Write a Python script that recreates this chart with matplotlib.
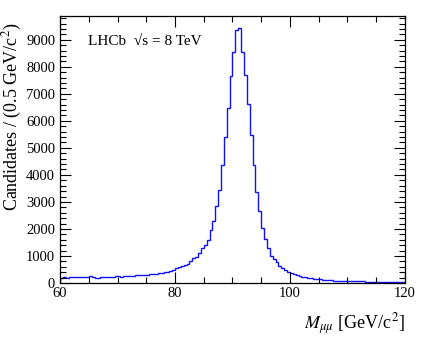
import numpy as np
import matplotlib
matplotlib.use("Agg")
import matplotlib.pyplot as plt
from matplotlib.ticker import MultipleLocator

# Histogram data: dimuon invariant mass, 0.5 GeV bins from 60 to 120
bin_lo = 60.0
bin_hi = 120.0
bin_w = 0.5
counts_60_80 = [200, 205, 200, 205, 210, 205, 210, 215, 215, 240,
                255, 230, 190, 200, 210, 215, 220, 225, 230, 245,
                250, 240, 255, 260, 265, 275, 280, 290, 285, 300,
                310, 330, 350, 345, 360, 380, 410, 420, 430, 470]
counts_80_90 = [570, 600, 640, 680, 720, 800, 914, 975, 1120, 1280,
                1400, 1600, 1950, 2300, 2860, 3440, 4350, 5420, 6470, 7670]
counts_90_100 = [8530, 9350, 9430, 8560, 7700, 6630, 5480, 4370, 3350, 2680,
                 2020, 1617, 1284, 1000, 900, 760, 640, 545, 480, 420]
counts_100_110 = [380, 340, 300, 270, 240, 215, 190, 175, 160, 145,
                  130, 120, 110, 100, 95, 90, 85, 80, 75, 72]
counts_110_120 = [68, 66, 64, 60, 58, 56, 54, 52, 50, 50,
                  48, 46, 45, 44, 43, 42, 42, 40, 40, 38]
counts = np.array(counts_60_80 + counts_80_90 + counts_90_100 + counts_100_110 + counts_110_120)
edges = np.arange(bin_lo, bin_hi + bin_w / 2, bin_w)

plt.rcParams['font.family'] = ['Liberation Serif', 'DejaVu Serif']
plt.rcParams['mathtext.fontset'] = 'stix'

fig = plt.figure(figsize=(4.27, 3.38), dpi=100)
ax = fig.add_axes([60/427, (338-283)/338, 345/427, (283-16)/338])

ax.stairs(counts, edges, color='#1010ff', lw=1.0)

ax.set_xlim(60, 120)
ax.set_ylim(0, 9880)
ax.xaxis.set_major_locator(MultipleLocator(20))
ax.xaxis.set_minor_locator(MultipleLocator(5))
ax.yaxis.set_major_locator(MultipleLocator(1000))
ax.yaxis.set_minor_locator(MultipleLocator(200))
ax.tick_params(which='both', direction='in', top=True, right=True, labelsize=10.5, width=0.8)
ax.tick_params(which='major', length=8)
ax.tick_params(which='minor', length=4)
ax.tick_params(axis='x', pad=3)
for s in ax.spines.values():
    s.set_linewidth(0.9)

fig.text(12/427, 1 - 117/338, r'Candidates / (0.5 GeV/c$^2$)', fontsize=13,
         rotation=90, ha='center', va='center')
fig.text(405/427, 1 - 324/338, r'$M_{\mu\mu}$ [GeV/c$^2$]', fontsize=13,
         ha='right', va='center')

ax.text(0.08, 0.905, 'LHCb  \u221As = 8 TeV', transform=ax.transAxes,
        fontsize=11, ha='left', va='center')

fig.savefig('out.png', dpi=100)
